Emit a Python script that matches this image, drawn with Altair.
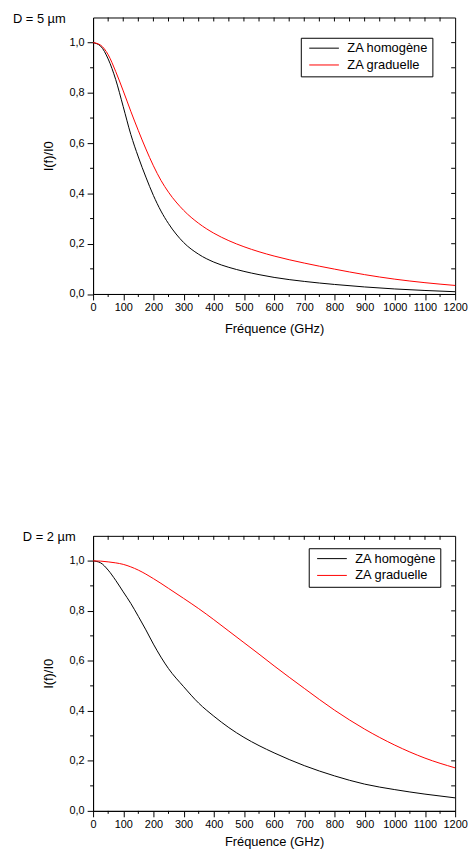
import altair as alt
import pandas as pd

series = ["ZA homogène", "ZA graduelle"]
colors = ["#000000", "#ff0000"]
freq = [0, 25, 50, 75, 100, 125, 150, 175, 200, 225, 250, 300, 350, 400, 450,
        500, 550, 600, 700, 800, 900, 1000, 1100, 1200]
d5_homogene = [1.0, 0.986, 0.935, 0.853, 0.745, 0.635, 0.545, 0.465, 0.392, 0.33, 0.28,
               0.205, 0.158, 0.127, 0.106, 0.09, 0.077, 0.066, 0.05, 0.038, 0.028,
               0.02, 0.014, 0.009]
d5_graduelle = [1.0, 0.99, 0.952, 0.885, 0.808, 0.727, 0.65, 0.577, 0.51, 0.452, 0.405,
                0.333, 0.281, 0.242, 0.212, 0.188, 0.168, 0.151, 0.123, 0.099, 0.077,
                0.059, 0.045, 0.034]
d2_homogene = [1.0, 0.992, 0.963, 0.922, 0.876, 0.83, 0.778, 0.724, 0.667, 0.615, 0.569,
               0.497, 0.431, 0.379, 0.333, 0.294, 0.261, 0.232, 0.181, 0.14, 0.107,
               0.085, 0.067, 0.052]
d2_graduelle = [1.0, 0.999, 0.996, 0.992, 0.986, 0.976, 0.963, 0.947, 0.929, 0.91, 0.89,
                0.85, 0.809, 0.765, 0.719, 0.673, 0.627, 0.58, 0.49, 0.403, 0.327,
                0.263, 0.211, 0.172]
titles = ["D = 5 µm", "D = 2 µm"]
x_major = list(range(0, 1201, 100))
x_minor = list(range(50, 1200, 100))
x_top = list(range(50, 1200, 50))
y_major = [0.0, 0.2, 0.4, 0.6, 0.8, 1.0]
y_minor = [0.1, 0.3, 0.5, 0.7, 0.9]
y_right = [0.1, 0.2, 0.3, 0.4, 0.5, 0.6, 0.7, 0.8, 0.9, 1.0]

W = 366
FONT = "Liberation Sans"


def panel(homog, grad, title, tx, ty, lx, ly, tpad, H):
    df = pd.DataFrame({
        "f": freq + freq,
        "v": homog + grad,
        "s": [series[0]] * len(freq) + [series[1]] * len(freq),
    })
    X = alt.X("f:Q", scale=alt.Scale(domain=[0, 1200], nice=False, zero=False),
              axis=alt.Axis(values=x_major, title="Fréquence (GHz)", labelFlush=False,
                            labelOverlap=False, tickSize=6, labelPadding=2,
                            titlePadding=tpad, format="d"))
    Y = alt.Y("v:Q", scale=alt.Scale(domain=[0, 1.1], nice=False),
              axis=alt.Axis(values=y_major, title="I(f)/I0", tickSize=6, labelPadding=3,
                            titlePadding=14,
                            labelExpr="replace(format(datum.value, '.1f'), '.', ',')"))
    lines = alt.Chart(df).mark_line(strokeWidth=1, interpolate="monotone").encode(
        x=X, y=Y,
        color=alt.Color("s:N", scale=alt.Scale(domain=series, range=colors),
                        sort=series,
                        legend=alt.Legend(orient="none", legendX=lx, legendY=ly, title=None,
                                          symbolType="stroke", symbolSize=900,
                                          symbolStrokeWidth=1, clipHeight=13,
                                          symbolOffset=4, labelOffset=8, rowPadding=3,
                                          padding=4, strokeColor="black",
                                          fillColor="white", labelFontSize=13,
                                          labelFont=FONT, labelColor="black")),
    )
    bottom_minor = alt.Chart(pd.DataFrame({"f": x_minor})).mark_rule(
        color="black", strokeWidth=1).encode(x=X, y=alt.value(H), y2=alt.value(H + 3))
    top_ticks = alt.Chart(pd.DataFrame({"f": x_top})).mark_rule(
        color="black", strokeWidth=1).encode(x=X, y=alt.value(0), y2=alt.value(4))
    left_minor = alt.Chart(pd.DataFrame({"v": y_minor})).mark_rule(
        color="black", strokeWidth=1).encode(y=Y, x=alt.value(-3), x2=alt.value(0))
    right_ticks = alt.Chart(pd.DataFrame({"v": y_right})).mark_rule(
        color="black", strokeWidth=1).encode(y=Y, x=alt.value(W - 4), x2=alt.value(W))
    ttl = alt.Chart(pd.DataFrame({"t": [title]})).mark_text(
        align="left", baseline="alphabetic", fontSize=13, font=FONT, color="black").encode(
        text="t:N", x=alt.value(tx), y=alt.value(ty))
    return alt.layer(lines, bottom_minor, top_ticks, left_minor, right_ticks, ttl).properties(
        width=W, height=H)


top = panel(d5_homogene, d5_graduelle, titles[0], -81, 5.5, 210, 20.5, 10, 279.5)
bot = panel(d2_homogene, d2_graduelle, titles[1], -71, 5.2, 218, 12.5, 6, 278)

chart = alt.vconcat(top, bot, spacing=196).resolve_scale(color="independent").properties(
    padding={"left": 4, "top": 0, "right": 0, "bottom": 0}
).configure_view(stroke="black", strokeWidth=1).configure_axis(
    grid=False, domainColor="black", domainWidth=1, tickColor="black", tickWidth=1,
    labelFont=FONT, labelFontSize=11, labelColor="black",
    titleFont=FONT, titleFontSize=13, titleFontWeight="normal", titleColor="black",
)

chart.save("out.html", embed_options={"renderer": "svg", "actions": False})
